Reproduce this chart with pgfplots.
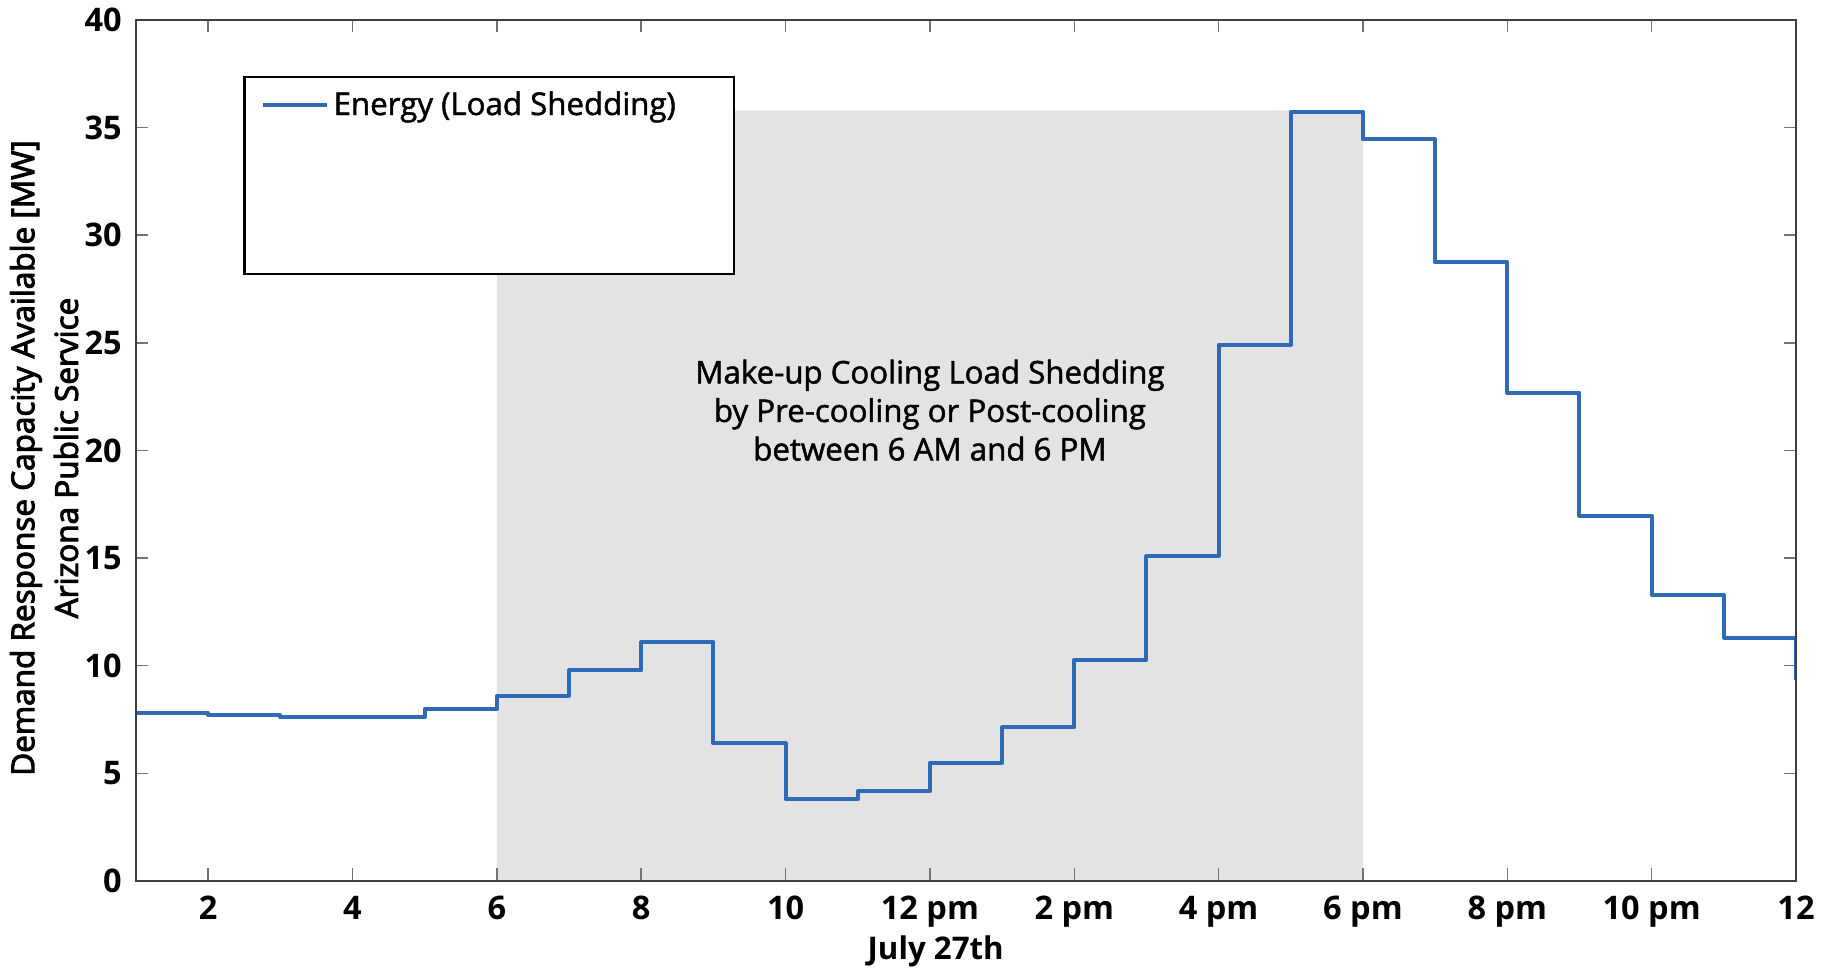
\documentclass[border=0pt]{standalone}
\usepackage{pgfplots}
\pgfplotsset{compat=1.18}
\usepackage{fontspec}
\setmainfont{Open Sans}
\newfontfamily\medf{Open Sans}[FakeBold=1.5]
\newfontfamily\semib{Open Sans}[FakeBold=3.2]
\definecolor{stepblue}{HTML}{2F6AB6}
\definecolor{shade}{HTML}{E3E3E3}
\begin{document}
\begin{tikzpicture}
\path[use as bounding box] (-54.4pt,-34.8pt) rectangle (676.4pt,352.4pt);
\begin{axis}[
  at={(0,0)}, anchor=south west, scale only axis,
  width=664pt, height=344.4pt,
  xmin=1, xmax=24, ymin=0, ymax=40,
  clip mode=individual,
  xtick={2,4,...,24},
  xticklabels={2,4,6,8,10,12 pm,2 pm,4 pm,6 pm,8 pm,10 pm,12},
  ytick={0,5,...,40},
  tick align=inside, tickpos=both, major tick length=5pt,
  axis line style={black!75, line width=0.8pt},
  every tick/.style={black!55, line width=0.6pt},
  ticklabel style={font=\bfseries\fontsize{13}{15}\selectfont},
  /pgf/number format/assume math mode=true,
  xticklabel style={yshift=-2.6pt},
  yticklabel style={xshift=-2.2pt},
  axis on top,
  legend style={at={(axis cs:2.72,36.05)}, anchor=west, draw=none, fill=none,
    font=\medf\fontsize{12.5}{15}\selectfont, inner sep=0pt},
  legend image code/.code={\draw[#1] (0pt,0pt) -- (25.6pt,0pt);},
]
\addplot[fill=shade, draw=none, forget plot] coordinates {(6,0) (6,35.8) (18,35.8) (18,0)} \closedcycle;
\draw[black, line width=0.9pt, fill=white] (axis cs:2.502,28.2) rectangle (axis cs:9.286,37.35);
\addplot[const plot, stepblue, line width=1.6pt, line join=round] coordinates {
(1,7.81) (2,7.71) (3,7.60) (4,7.60) (5,7.99) (6,8.61) (7,9.78) (8,11.10)
(9,6.39) (10,3.79) (11,4.17) (12,5.47) (13,7.14) (14,10.28) (15,15.10)
(16,24.90) (17,35.73) (18,34.45) (19,28.74) (20,22.68) (21,16.97)
(22,13.29) (23,11.31) (24,9.35)};
\addlegendentry{Energy (Load Shedding)}
\node[align=center, font=\medf\fontsize{12.5}{15.4}\selectfont] at (axis cs:12.0,21.87)
  {Make-up Cooling Load Shedding\\by Pre-cooling or Post-cooling\\between 6 AM and 6 PM};
\node[font=\bfseries\fontsize{12.5}{14}\selectfont] at ([yshift=-28pt]axis cs:12.08,0) {July 27th};
\node[rotate=90, font=\semib\fontsize{12.6}{14}\selectfont] at ([xshift=-44pt,yshift=-3pt]rel axis cs:0,0.5)
  {Demand Response Capacity Available [MW]};
\node[rotate=90, font=\semib\fontsize{12.6}{14}\selectfont] at ([xshift=-28pt,yshift=-3pt]rel axis cs:0,0.5)
  {Arizona Public Service};
\end{axis}
\end{tikzpicture}
\end{document}
